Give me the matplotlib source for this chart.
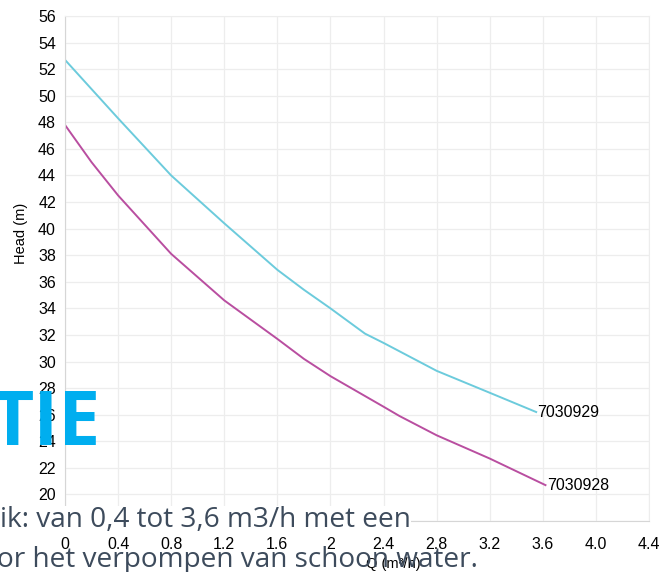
import matplotlib
matplotlib.use("Agg")
import matplotlib.pyplot as plt
import numpy as np

# pump curves, Q (m3/h) vs head (m)
q_929 = [0, 0.4, 0.8, 1.2, 1.6, 1.8, 2.0, 2.26, 2.4, 2.8, 3.2, 3.55]
h_929 = [52.7, 48.3, 44.0, 40.4, 36.9, 35.4, 34.0, 32.1, 31.4, 29.3, 27.65, 26.2]

q_928 = [0, 0.2, 0.4, 0.8, 1.2, 1.6, 1.8, 2.0, 2.4, 2.52, 2.8, 3.2, 3.62]
h_928 = [47.8, 45.0, 42.5, 38.1, 34.6, 31.7, 30.2, 28.9, 26.6, 25.9, 24.45, 22.7, 20.7]

labels = ["7030929", "7030928"]
x_ticks = [0, 0.4, 0.8, 1.2, 1.6, 2.0, 2.4, 2.8, 3.2, 3.6, 4.0, 4.4]
x_tick_labels = ["0", "0.4", "0.8", "1.2", "1.6", "2", "2.4", "2.8", "3.2", "3.6", "4.0", "4.4"]
y_ticks = list(range(18, 57, 2))

W, H = 671, 572
fig = plt.figure(figsize=(W / 100, H / 100), dpi=100)
ax = fig.add_axes([65 / W, (H - 521) / H, 584 / W, 505 / H])

arial = ["Liberation Sans", "DejaVu Sans"]
opens = ["Open Sans", "DejaVu Sans"]

ax.plot(q_929, h_929, color="#6ccbdc", lw=1.4)
ax.plot(q_928, h_928, color="#b94ea0", lw=1.4)
ax.text(q_929[-1] + 0.01, h_929[-1], labels[0], family=arial, fontsize=11.5,
        va="center", ha="left")
ax.text(q_928[-1] + 0.01, h_928[-1], labels[1], family=arial, fontsize=11.5,
        va="center", ha="left")

ax.set_xlim(0, 4.4)
ax.set_ylim(18, 56)
ax.set_xticks(x_ticks)
ax.set_xticklabels(x_tick_labels)
ax.set_yticks(y_ticks)
for t in ax.get_xticklabels() + ax.get_yticklabels():
    t.set_family(arial)
    t.set_fontsize(11.5)
ax.tick_params(axis="both", length=0)
ax.tick_params(axis="y", pad=6.5)
ax.tick_params(axis="x", pad=11.5)
ax.grid(True, color="#ededed", lw=0.9)
ax.set_axisbelow(True)
for s in ["top", "right"]:
    ax.spines[s].set_color("#ededed")
for s in ["left", "bottom"]:
    ax.spines[s].set_color("#d6d6d6")

fig.text(21 / W, 1 - 233 / H, "Head (m)", rotation=90, family=arial,
         fontsize=10.5, ha="center", va="center")
fig.text(393 / W, 1 - 564 / H, "Q (m\u00b3/h)", family=arial,
         fontsize=10.5, ha="center", va="center")

# page text lying over the chart
fig.text(101 / W, 1 - 445 / H, "TIE", family=opens, fontweight="bold",
         fontsize=54, color="#00aeef", ha="right", va="baseline")
fig.text(0 / W, 1 - 527 / H, "ik: van 0,4 tot 3,6 m3/h met een",
         family=opens, fontsize=20.2, color="#3d4b5c",
         ha="left", va="baseline",
         bbox=dict(facecolor="white", edgecolor="none", pad=0))
fig.text(-3 / W, 1 - 567 / H, "or het verpompen van schoon water.",
         family=opens, fontsize=20.2, color="#3d4b5c",
         ha="left", va="baseline")

fig.savefig("out.png", dpi=100)
